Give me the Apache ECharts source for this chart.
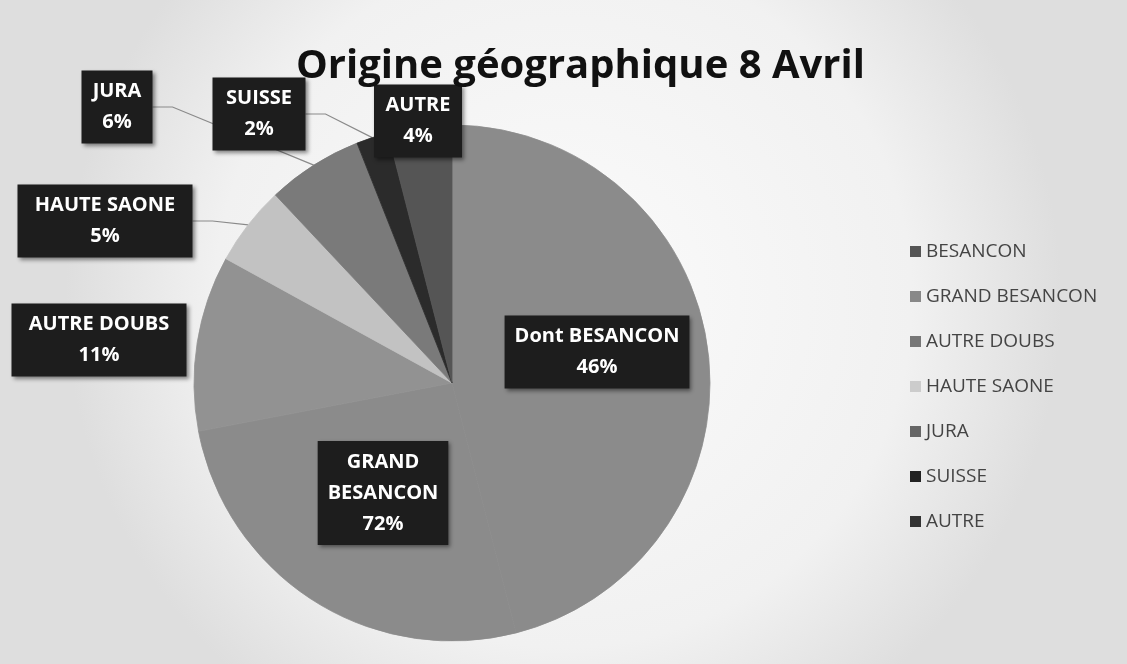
<!DOCTYPE html>
<html>
<head>
<meta charset="utf-8">
<script src="https://cdn.jsdelivr.net/npm/echarts@6/dist/echarts.min.js"></script>
<style>
  html, body { margin: 0; padding: 0; }
  #chart { width: 1127px; height: 664px; }
</style>
</head>
<body>
<div id="chart"></div>
<script>
// Initialize
var pieChart = echarts.init(document.getElementById('chart'));

// data
var categories = ['BESANCON', 'GRAND BESANCON', 'AUTRE DOUBS', 'HAUTE SAONE', 'JURA', 'SUISSE', 'AUTRE'];
var sliceValues = [46, 26, 11, 5, 6, 2, 4];
var labelNames = ['Dont BESANCON', 'GRAND\nBESANCON', 'AUTRE DOUBS', 'HAUTE SAONE', 'JURA', 'SUISSE', 'AUTRE'];
var labelPct = [46, 72, 11, 5, 6, 2, 4];

// looks
var sliceColors = ['#8b8b8b', '#8b8b8b', '#929292', '#c2c2c2', '#7a7a7a', '#2b2b2b', '#555555'];
var legendColors = ['#555555', '#888888', '#777777', '#cccccc', '#666666', '#222222', '#333333'];
var labelPos = [[597, 352], [383, 493], [99, 340], [105, 221], [117, 107], [259, 114], [418, 121]];
var labelWidth = [null, null, 155, 155, 51, 73, 68];
var showLine = [false, false, false, true, true, true, false];

function buildData() {
    var out = [];
    for (var i = 0; i < categories.length; i++) {
        var item = {
            name: categories[i],
            value: sliceValues[i],
            itemStyle: { color: sliceColors[i], borderColor: sliceColors[i], borderWidth: 0.8 },
            labelLine: { show: showLine[i] }
        };
        if (labelWidth[i]) {
            item.label = { width: labelWidth[i], overflow: 'none' };
        }
        out.push(item);
    }
    return out;
}

function buildLegend() {
    var out = [];
    for (var i = 0; i < categories.length; i++) {
        out.push({ name: categories[i], itemStyle: { color: legendColors[i], borderWidth: 0 } });
    }
    return out;
}

var pieOption = {
    backgroundColor: new echarts.graphic.RadialGradient(0.5, 0.45, 0.75, [
        { offset: 0, color: '#fbfbfb' },
        { offset: 0.7, color: '#f1f1f1' },
        { offset: 1, color: '#dedede' }
    ]),
    title: {
        text: 'Origine géographique 8 Avril',
        left: 291,
        top: 42,
        textStyle: {
            fontFamily: 'Open Sans',
            fontSize: 40,
            fontWeight: 'bold',
            color: '#111'
        }
    },
    legend: {
        orient: 'vertical',
        left: 905,
        top: 237,
        icon: 'rect',
        itemWidth: 11,
        itemHeight: 11,
        itemGap: 26,
        textStyle: {
            fontFamily: 'Open Sans',
            fontSize: 19,
            lineHeight: 19,
            color: '#444'
        },
        data: buildLegend()
    },
    series: [
        {
            name: 'Origine',
            type: 'pie',
            center: [452, 383],
            radius: 258,
            startAngle: 90,
            clockwise: true,
            silent: true,
            label: {
                show: true,
                formatter: function (p) {
                    return labelNames[p.dataIndex] + '\n' + labelPct[p.dataIndex] + '%';
                },
                fontFamily: 'Open Sans',
                fontSize: 20,
                fontWeight: 'bold',
                lineHeight: 31,
                color: '#fff',
                align: 'center',
                backgroundColor: '#1d1d1d',
                padding: [6, 10, 5, 10],
                shadowBlur: 4,
                shadowColor: 'rgba(0,0,0,0.45)',
                shadowOffsetX: 2,
                shadowOffsetY: 2
            },
            labelLine: {
                show: true,
                length: 15,
                length2: 20,
                lineStyle: { color: '#8a8a8a', width: 1.2 }
            },
            labelLayout: function (params) {
                var p = labelPos[params.dataIndex];
                return { x: p[0], y: p[1], align: 'center', verticalAlign: 'middle' };
            },
            data: buildData()
        }
    ]
};

pieChart.setOption(pieOption);
</script>
</body>
</html>
